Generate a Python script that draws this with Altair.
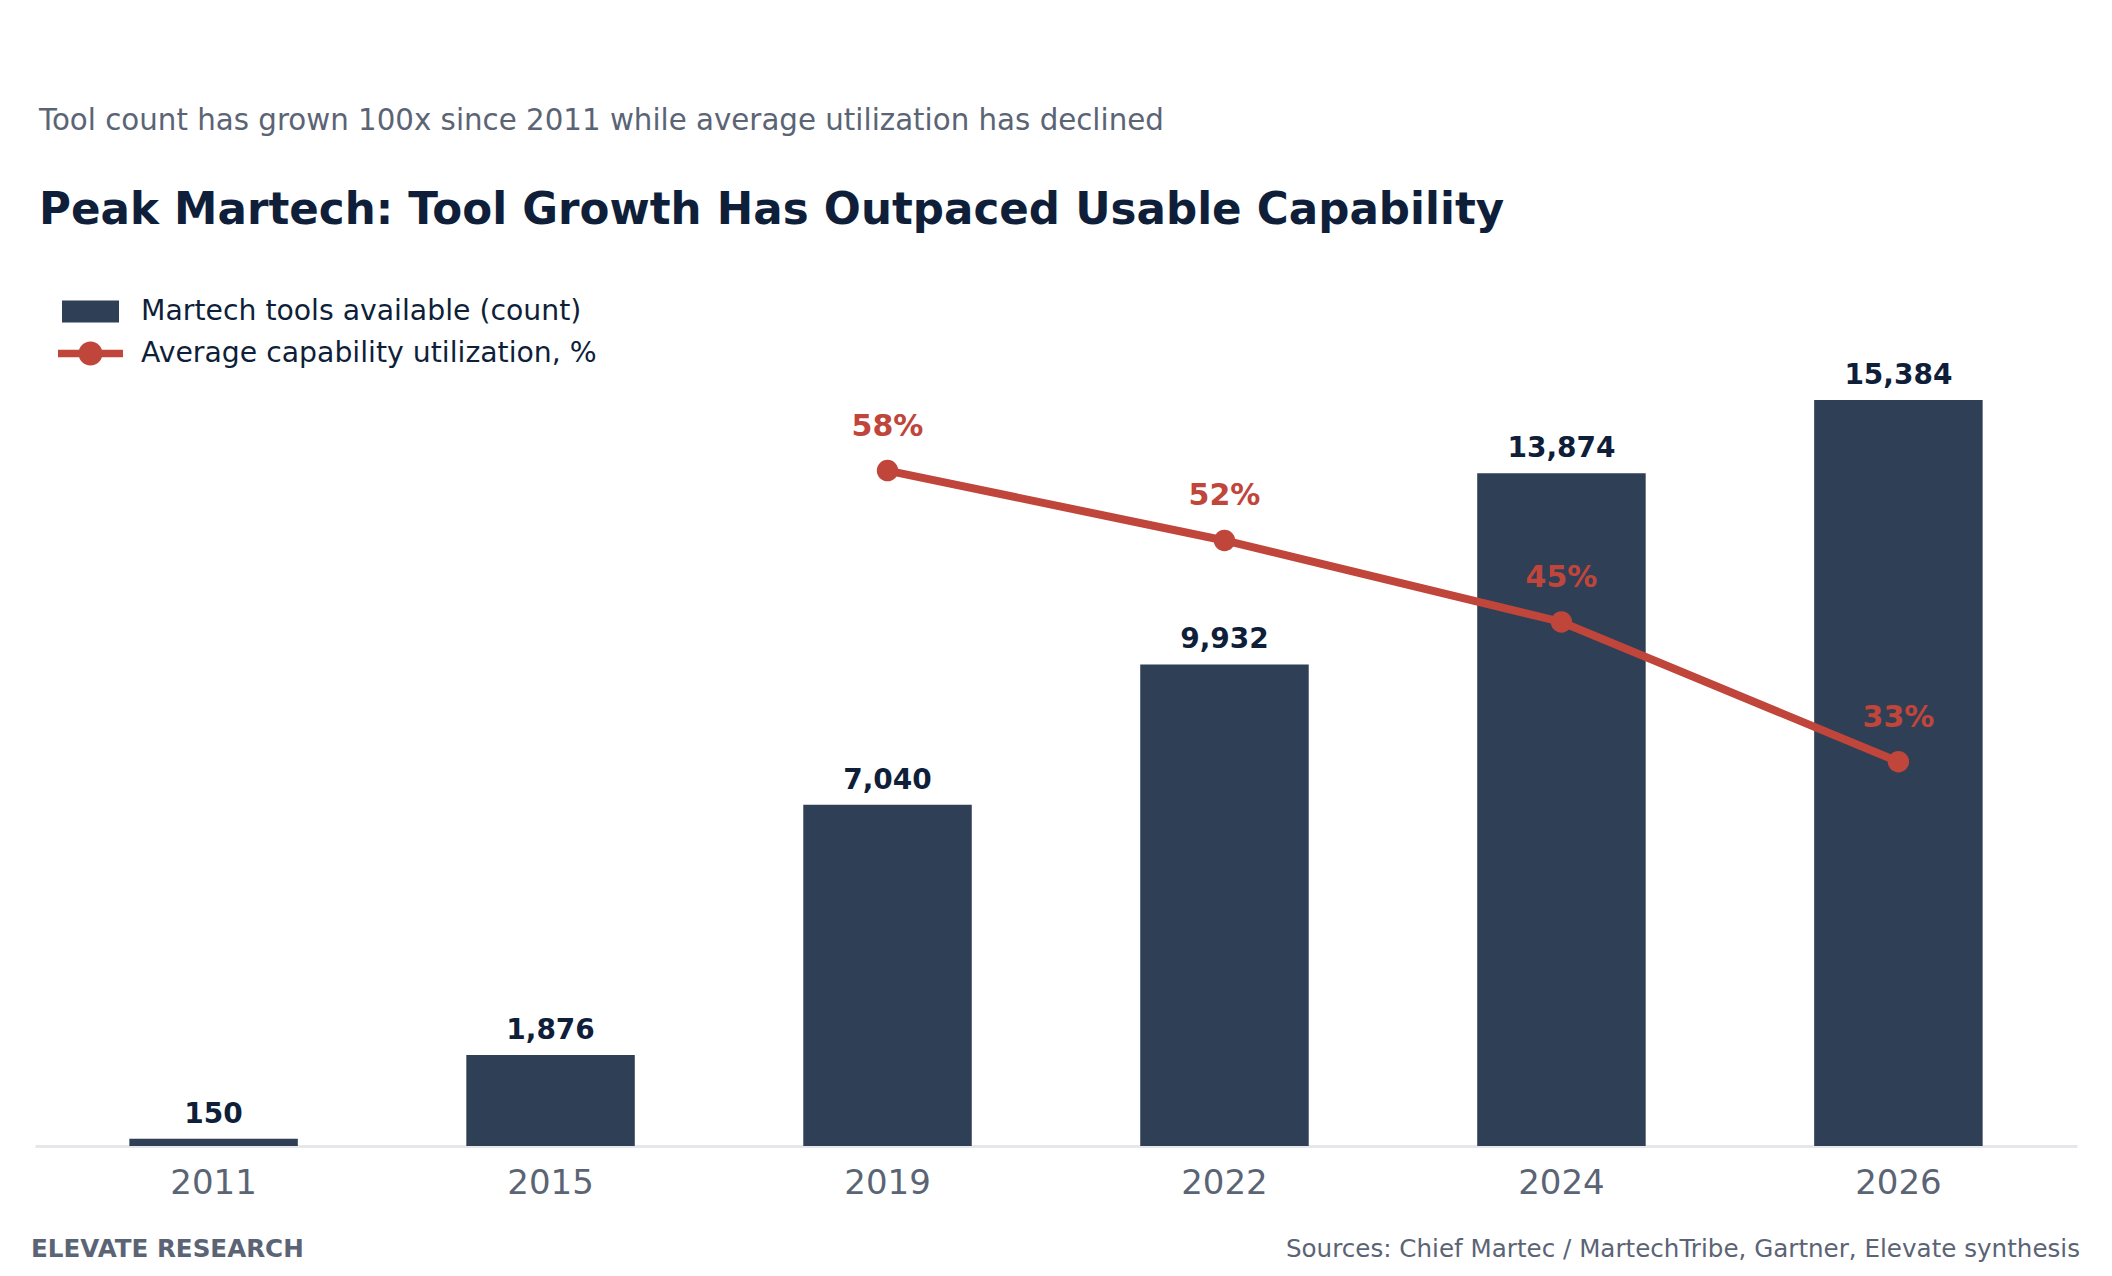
import altair as alt
import pandas as pd

# ---- data ----
years = ["2011", "2015", "2019", "2022", "2024", "2026"]
tools = [150, 1876, 7040, 9932, 13874, 15384]
util_years = ["2019", "2022", "2024", "2026"]
util = [58, 52, 45, 33]

BAR_LABEL = "Martech tools available (count)"
LINE_LABEL = "Average capability utilization, %"
SUBTITLE = "Tool count has grown 100x since 2011 while average utilization has declined"
TITLE = "Peak Martech: Tool Growth Has Outpaced Usable Capability"
FOOT_LEFT = "ELEVATE RESEARCH"
FOOT_RIGHT = "Sources: Chief Martec / MartechTribe, Gartner, Elevate synthesis"

bars_df = pd.DataFrame({"year": years, "tools": tools, "series": BAR_LABEL})
util_df = pd.DataFrame({"year": util_years, "util": util, "series": LINE_LABEL})
util_df["label"] = util_df["util"].astype(str) + "%"
foot_df = pd.DataFrame({"left": [FOOT_LEFT], "right": [FOOT_RIGHT]})

NAVY = "#0f1f3a"
BAR = "#2f3f56"
RED = "#c0453a"
GRAY = "#5b6475"
FONT = "DejaVu Sans"

W, H = 2042, 800

x_enc = alt.X(
    "year:N", sort=years,
    scale=alt.Scale(paddingInner=0.5, paddingOuter=0.28),
    axis=alt.Axis(title=None, labelAngle=0, ticks=False, tickSize=0, grid=False,
                  domainColor="#e5e7eb", domainWidth=3, labelFontSize=34,
                  labelColor=GRAY, labelFont=FONT, labelPadding=20),
)

y_bar = alt.Y("tools:Q", scale=alt.Scale(domain=[0, 16500]), axis=None)
y_line = alt.Y("util:Q", scale=alt.Scale(domain=[0, 68.7]), axis=None)

legend_common = dict(title=None, orient="none", legendX=27, symbolSize=3249,
                     symbolStrokeWidth=0, symbolOpacity=1, labelFontSize=28.3,
                     labelColor=NAVY, labelFont=FONT, labelOffset=22, labelLimit=0,
                     padding=0)

bar = alt.Chart(bars_df).mark_bar(opacity=1).encode(
    x=x_enc, y=y_bar,
    color=alt.Color("series:N", scale=alt.Scale(domain=[BAR_LABEL], range=[BAR]),
                    legend=alt.Legend(legendY=-63,
                                      symbolType="M-1,-0.386H1V0.386H-1Z",
                                      **legend_common)),
)
bar_text = alt.Chart(bars_df).mark_text(
    dy=-24, fontSize=28, fontWeight="bold", font=FONT, color=NAVY
).encode(x=alt.X("year:N", sort=years), y=y_bar, text=alt.Text("tools:Q", format=","))

foot_l = alt.Chart(foot_df).mark_text(
    align="left", baseline="alphabetic", fontSize=24.6, fontWeight="bold", font=FONT, color=GRAY
).encode(x=alt.value(-4), y=alt.value(911), text="left:N")
foot_r = alt.Chart(foot_df).mark_text(
    align="right", baseline="alphabetic", fontSize=24.6, font=FONT, color=GRAY
).encode(x=alt.value(2045), y=alt.value(911), text="right:N")

bars_layer = alt.layer(bar, bar_text, foot_l, foot_r)

line = alt.Chart(util_df).mark_line(color=RED, strokeWidth=8).encode(
    x=alt.X("year:N", sort=years), y=y_line
)
points = alt.Chart(util_df).mark_circle(size=460, opacity=1).encode(
    x=alt.X("year:N", sort=years), y=y_line,
    fill=alt.Fill("series:N", scale=alt.Scale(domain=[LINE_LABEL], range=[RED]),
                  legend=alt.Legend(legendY=-21,
                                    symbolType="M-1.14,-0.13H1.14V0.13H-1.14Z M-0.42,0A0.42,0.42 0 1,1 0.42,0A0.42,0.42 0 1,1 -0.42,0Z",
                                    symbolFillColor=RED,
                                    **legend_common)),
)
pct_text = alt.Chart(util_df).mark_text(
    dy=-44, fontSize=30, fontWeight="bold", font=FONT, color=RED
).encode(x=alt.X("year:N", sort=years), y=y_line, text="label:N")

line_layer = alt.layer(line, points, pct_text)

chart = alt.layer(bars_layer, line_layer).resolve_scale(
    y="independent", color="independent", fill="independent"
).properties(
    width=W, height=H,
    title=alt.Title(
        text=SUBTITLE, subtitle=TITLE, anchor="start", frame="group",
        font=FONT, fontSize=29.3, fontWeight="normal", color=GRAY,
        subtitleFont=FONT, subtitleFontSize=43.6, subtitleFontWeight="bold",
        subtitleColor=NAVY, subtitlePadding=54, offset=50, dx=4,
    ),
    autosize=alt.AutoSizeParams(type="none"),
    padding={"left": 27, "top": 338, "right": 27, "bottom": 120},
).configure(font=FONT).configure_view(stroke=None, strokeWidth=0)

chart.save("out.html", embed_options={"renderer": "svg", "actions": False})
